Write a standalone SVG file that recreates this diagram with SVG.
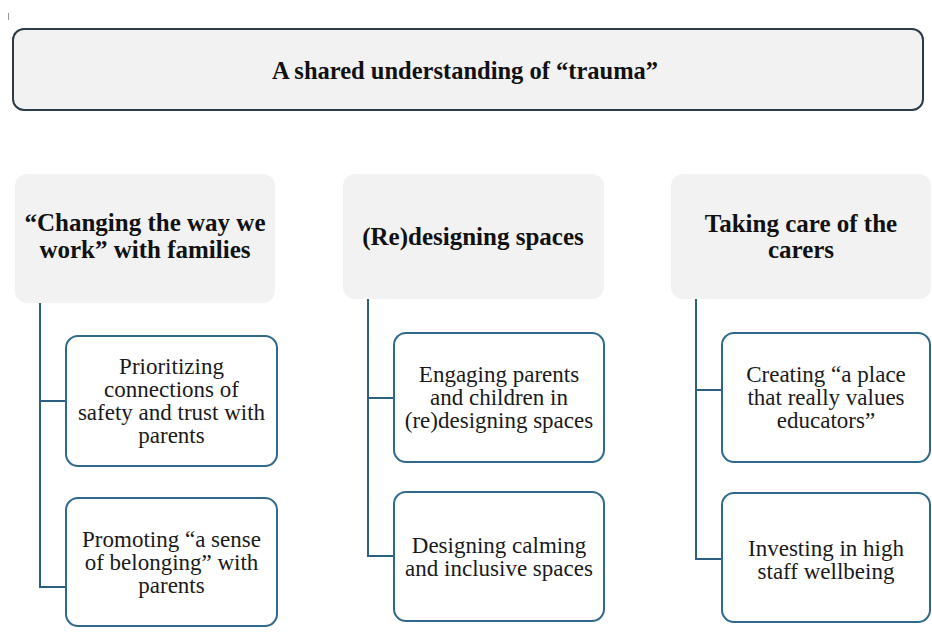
<svg xmlns="http://www.w3.org/2000/svg" width="932" height="635" viewBox="0 0 932 635">
  <style>
    .top { fill: #f2f2f2; stroke: #2b3b47; stroke-width: 2; }
    .head { fill: #f2f2f2; stroke: none; }
    .child { fill: #ffffff; stroke: #2f6a8c; stroke-width: 2; }
    .conn { fill: none; stroke: #2b5f7e; stroke-width: 2; }
    .title { font-family: "Liberation Serif", "Times New Roman", serif; font-weight: bold; font-size: 24.5px; fill: #111; text-anchor: middle; }
    .htext { font-family: "Liberation Serif", "Times New Roman", serif; font-weight: bold; font-size: 25px; fill: #111; text-anchor: middle; }
    .ctext { font-family: "Liberation Serif", "Times New Roman", serif; font-size: 23px; fill: #1a1a1a; text-anchor: middle; }
  </style>
  <rect width="932" height="635" fill="#ffffff"/>
  <line x1="8.5" y1="13" x2="8.5" y2="20" stroke="#999" stroke-width="1"/>

  <g id="root">
    <rect class="top" x="13" y="29" width="910" height="81" rx="11"/>
    <text class="title" x="465" y="79">A shared understanding of “trauma”</text>
  </g>

  <g id="connectors">
    <path class="conn" d="M40 303 V587 H66 M40 401 H66"/>
    <path class="conn" d="M368 299 V556 H394 M368 398 H394"/>
    <path class="conn" d="M696 299 V559 H722 M696 390 H722"/>
  </g>

  <g id="theme-families">
    <rect class="head" x="15" y="174" width="260" height="129" rx="12"/>
    <text class="htext" x="145" y="231">“Changing the way we</text>
    <text class="htext" x="145" y="258">work” with families</text>
  </g>
  <g id="families-trust">
    <rect class="child" x="66" y="336" width="211" height="130" rx="12"/>
    <text class="ctext" x="171.5" y="374">Prioritizing</text>
    <text class="ctext" x="171.5" y="397">connections of</text>
    <text class="ctext" x="171.5" y="420">safety and trust with</text>
    <text class="ctext" x="171.5" y="443">parents</text>
  </g>
  <g id="families-belonging">
    <rect class="child" x="66" y="498" width="211" height="128" rx="12"/>
    <text class="ctext" x="171.5" y="547">Promoting “a sense</text>
    <text class="ctext" x="171.5" y="570">of belonging” with</text>
    <text class="ctext" x="171.5" y="593">parents</text>
  </g>

  <g id="theme-spaces">
    <rect class="head" x="343" y="174" width="261" height="125" rx="12"/>
    <text class="htext" x="473" y="245">(Re)designing spaces</text>
  </g>
  <g id="spaces-engaging">
    <rect class="child" x="394" y="333" width="210" height="129" rx="12"/>
    <text class="ctext" x="499" y="382">Engaging parents</text>
    <text class="ctext" x="499" y="405">and children in</text>
    <text class="ctext" x="499" y="428">(re)designing spaces</text>
  </g>
  <g id="spaces-calming">
    <rect class="child" x="394" y="492" width="210" height="129" rx="12"/>
    <text class="ctext" x="499" y="553">Designing calming</text>
    <text class="ctext" x="499" y="576">and inclusive spaces</text>
  </g>

  <g id="theme-carers">
    <rect class="head" x="671" y="174" width="260" height="125" rx="12"/>
    <text class="htext" x="801" y="232">Taking care of the</text>
    <text class="htext" x="801" y="258">carers</text>
  </g>
  <g id="carers-values">
    <rect class="child" x="722" y="333" width="208" height="129" rx="12"/>
    <text class="ctext" x="826" y="382">Creating “a place</text>
    <text class="ctext" x="826" y="405">that really values</text>
    <text class="ctext" x="826" y="428">educators”</text>
  </g>
  <g id="carers-wellbeing">
    <rect class="child" x="722" y="493" width="208" height="129" rx="12"/>
    <text class="ctext" x="826" y="556">Investing in high</text>
    <text class="ctext" x="826" y="579">staff wellbeing</text>
  </g>
</svg>
